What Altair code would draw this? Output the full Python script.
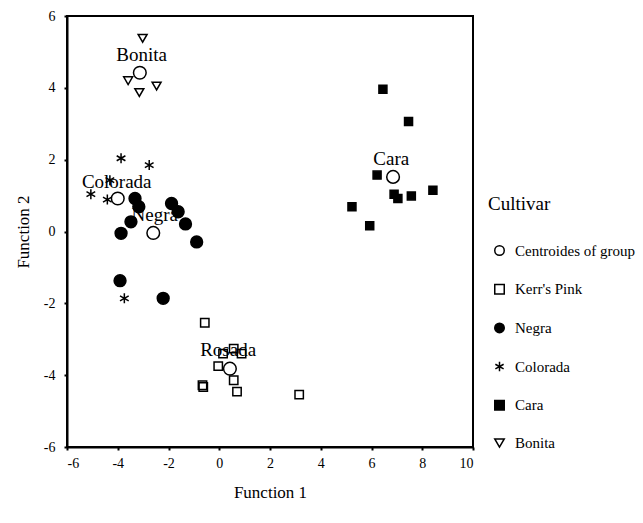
import json
import altair as alt
import pandas as pd

# ---- data ----
kerr_x = [-0.57, 0.15, 0.57, 0.88, -0.04, 0.57, 0.70, -0.66, -0.63, 3.15]
kerr_y = [-2.54, -3.40, -3.26, -3.40, -3.75, -4.14, -4.46, -4.28, -4.33, -4.54]
negra_x = [-3.32, -3.17, -3.48, -3.87, -1.88, -1.62, -1.33, -0.89, -3.91, -2.21]
negra_y = [0.92, 0.69, 0.27, -0.05, 0.78, 0.55, 0.21, -0.29, -1.37, -1.86]
colorada_x = [-3.87, -2.76, -4.31, -5.06, -4.41, -3.74]
colorada_y = [2.04, 1.85, 1.43, 1.04, 0.89, -1.86]
cara_x = [6.45, 7.46, 6.22, 6.89, 7.04, 7.57, 8.42, 5.23, 5.93]
cara_y = [3.96, 3.06, 1.57, 1.04, 0.92, 0.99, 1.15, 0.69, 0.16]
bonita_x = [-3.02, -3.59, -3.15, -2.47]
bonita_y = [5.38, 4.20, 3.87, 4.05]

centroid_names = ["Rosada", "Negra", "Colorada", "Cara", "Bonita"]
centroid_x = [0.42, -2.60, -4.00, 6.85, -3.13]
centroid_y = [-3.82, -0.04, 0.92, 1.52, 4.42]
label_x = [0.35, -2.54, -4.04, 6.78, -3.06]
label_y = [-3.30, 0.46, 1.38, 2.02, 4.91]

groups = ["Centroides of group", "Kerr's Pink", "Negra", "Colorada", "Cara", "Bonita"]
x_ticks = [-6, -4, -2, 0, 2, 4, 6, 8, 10]
y_ticks = [-6, -4, -2, 0, 2, 4, 6]

# ---- tables ----
rows = []
for g, xs, ys in [("Kerr's Pink", kerr_x, kerr_y), ("Negra", negra_x, negra_y),
                  ("Colorada", colorada_x, colorada_y), ("Cara", cara_x, cara_y),
                  ("Bonita", bonita_x, bonita_y),
                  ("Centroides of group", centroid_x, centroid_y)]:
    for a, b in zip(xs, ys):
        rows.append({"x": a, "y": b, "Cultivar": g})
pts = pd.DataFrame(rows)
labels = pd.DataFrame({"x": label_x, "y": label_y, "name": centroid_names})

# ---- styles ----
FONT = "Liberation Serif"
asterisk = "M0,-1L0,1M-0.87,-0.5L0.87,0.5M-0.87,0.5L0.87,-0.5"
shapes = ["circle", "square", "circle", asterisk, "square", "triangle-down"]
fills = ["white", "transparent", "black", "black", "black", "transparent"]
sizes = [160, 70, 140, 100, 64, 80]
size_expr = f"{json.dumps(sizes)}[indexof({json.dumps(groups)}, datum.Cultivar)]"

xscale = alt.Scale(domain=[-6, 10], nice=False, zero=False)
yscale = alt.Scale(domain=[-6, 6], nice=False, zero=False)

xaxis = alt.Axis(values=x_ticks, title="Function 1", grid=False,
                 labelExpr="toString(datum.value)",
                 domainColor="black", domainWidth=2, tickColor="black",
                 tickWidth=2, tickSize=3, labelFont=FONT, labelFontSize=14,
                 labelColor="black", labelPadding=6, titleFont=FONT,
                 titleFontSize=17, titleFontWeight="normal", titleColor="black",
                 titleY=45, titleBaseline="middle")
yaxis = alt.Axis(values=y_ticks, title="Function 2", grid=False,
                 labelExpr="toString(datum.value)",
                 domainColor="black", domainWidth=2, tickColor="black",
                 tickWidth=2, tickSize=3, labelFont=FONT, labelFontSize=14,
                 labelColor="black", labelPadding=9, titleFont=FONT,
                 titleFontSize=17, titleFontWeight="normal", titleColor="black",
                 titleX=-44, titleY=215.5, titleAngle=-90,
                 titleBaseline="middle", titleAlign="center")

legend = alt.Legend(orient="none", legendX=421, legendY=179, padding=0,
                    title="Cultivar",
                    titleFont=FONT, titleFontSize=19, titleFontWeight="normal",
                    titleColor="black", titlePadding=29, labelFont=FONT,
                    labelFontSize=15, labelColor="black", rowPadding=21.7,
                    symbolSize=90, symbolStrokeWidth=1.5,
                    symbolOffset=4, labelOffset=8)

points = alt.Chart(pts).transform_calculate(
    sz=size_expr
).mark_point(strokeWidth=1.5, opacity=1).encode(
    x=alt.X("x:Q", scale=xscale, axis=xaxis),
    y=alt.Y("y:Q", scale=yscale, axis=yaxis),
    shape=alt.Shape("Cultivar:N", scale=alt.Scale(domain=groups, range=shapes),
                    legend=legend),
    fill=alt.Fill("Cultivar:N", scale=alt.Scale(domain=groups, range=fills),
                  legend=legend),
    stroke=alt.Stroke("Cultivar:N", scale=alt.Scale(domain=groups,
                                                    range=["black"] * 6),
                      legend=legend),
    size=alt.Size("sz:Q", scale=None),
)

texts = alt.Chart(labels).mark_text(font=FONT, fontSize=19, color="black",
                                    align="center", baseline="middle").encode(
    x=alt.X("x:Q", scale=xscale),
    y=alt.Y("y:Q", scale=yscale),
    text="name:N",
)

chart = alt.layer(points, texts).properties(
    width=406, height=431,
    autosize="none",
    padding={"left": 67, "top": 16, "right": 170, "bottom": 76},
    background="white",
).configure_view(stroke="black", strokeWidth=2)

chart.save("out.html", embed_options={"renderer": "svg", "actions": False})
